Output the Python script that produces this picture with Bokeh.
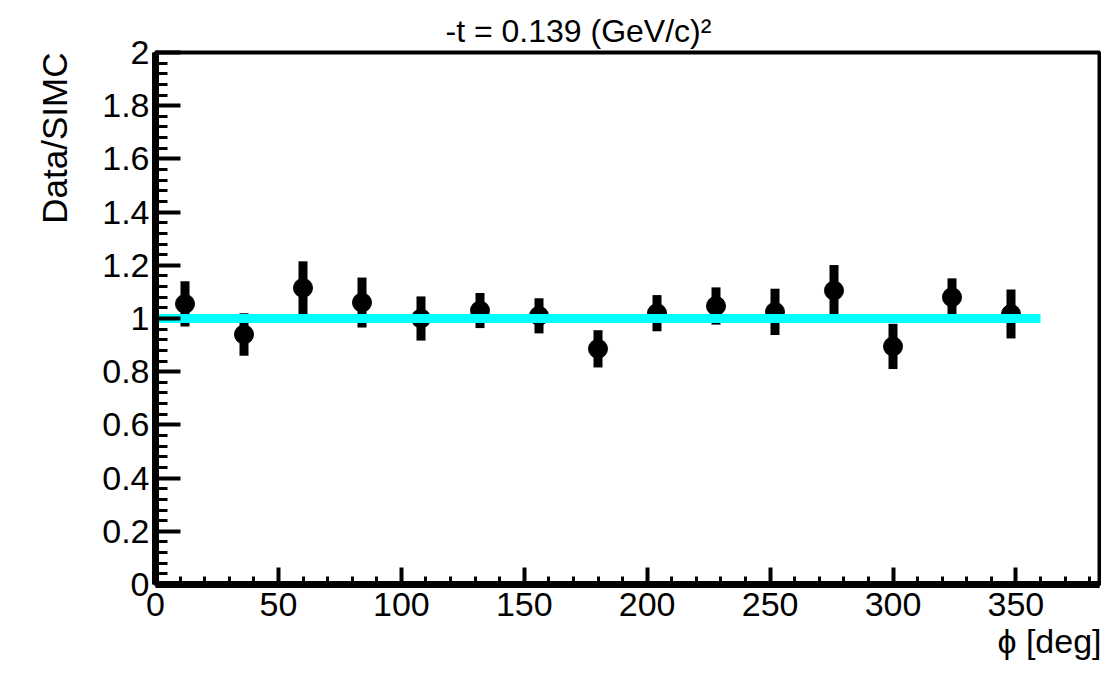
from bokeh.plotting import figure
from bokeh.models import (Range1d, FixedTicker, CustomJSTickFormatter, Title,
                          ColumnDataSource)
from bokeh.embed import file_html
from bokeh.resources import INLINE

# ---- data ----
phi_deg = [12, 36, 60, 84, 108, 132, 156, 180, 204, 228, 252, 276, 300, 324, 348]
ratio = [1.055, 0.94, 1.115, 1.06, 1.0, 1.03, 1.01, 0.886, 1.02, 1.047,
         1.025, 1.105, 0.895, 1.08, 1.017]
ratio_err = [0.085, 0.08, 0.10, 0.094, 0.083, 0.066, 0.066, 0.07, 0.068, 0.07,
             0.087, 0.096, 0.085, 0.071, 0.092]
fit_x = [0, 360]
fit_y = [1.0, 1.0]

x_major = [0, 50, 100, 150, 200, 250, 300, 350]
x_minor = list(range(0, 390, 10))
y_major = [0, 0.2, 0.4, 0.6, 0.8, 1.0, 1.2, 1.4, 1.6, 1.8, 2.0]
y_minor = [round(i * 0.04, 2) for i in range(51)]

title_text = "-t = 0.139 (GeV/c)\u00b2"
x_title = "\u03d5 [deg]"
y_title = "Data/SIMC"

FONT = "Liberation Sans"

p = figure(width=1101, height=683, output_backend="svg", toolbar_location=None,
           x_range=Range1d(0, 384), y_range=Range1d(0, 2),
           min_border_left=155, min_border_right=2, min_border_top=52,
           min_border_bottom=99, title=None)
p.background_fill_color = "white"
p.border_fill_color = "white"
p.outline_line_color = "black"
p.outline_line_width = 4
p.grid.visible = False

# axes styling
for ax in (p.xaxis[0], p.yaxis[0]):
    ax.axis_line_width = 7
    ax.axis_line_color = "black"
    ax.major_tick_out = 0
    ax.minor_tick_out = 0
    ax.major_tick_line_width = 4
    ax.minor_tick_line_width = 3
    ax.major_tick_line_color = "black"
    ax.minor_tick_line_color = "black"
    ax.major_label_text_font = FONT
    ax.major_label_text_font_size = "34px"
    ax.major_label_text_color = "black"

p.xaxis.ticker = FixedTicker(ticks=x_major, minor_ticks=x_minor)
p.yaxis.ticker = FixedTicker(ticks=y_major, minor_ticks=y_minor)
p.xaxis.major_tick_in = 17
p.xaxis.minor_tick_in = 8
p.yaxis.major_tick_in = 25
p.yaxis.minor_tick_in = 12
p.xaxis.major_label_standoff = 8
p.yaxis.major_label_standoff = 6
p.xaxis.formatter = CustomJSTickFormatter(code="return String(+tick.toFixed(2));")
p.yaxis.formatter = CustomJSTickFormatter(code="return String(+tick.toFixed(2));")

# data
lo = [r - e for r, e in zip(ratio, ratio_err)]
hi = [r + e for r, e in zip(ratio, ratio_err)]
src = ColumnDataSource(dict(x=phi_deg, y=ratio, lo=lo, hi=hi))
p.segment(x0="x", y0="lo", x1="x", y1="hi", source=src,
          line_color="black", line_width=9, line_cap="butt")
p.scatter(x="x", y="y", source=src, size=19, marker="circle",
          fill_color="black", line_color="black")
p.line(fit_x, fit_y, line_color="#00FFFF", line_width=9)

# texts
p.add_layout(Title(text=title_text, align="left", offset=290,
                   text_font=FONT, text_font_size="32px",
                   text_font_style="normal", text_color="black",
                   standoff=8), "above")
p.add_layout(Title(text=x_title, align="right", offset=-2,
                   text_font=FONT, text_font_size="34px",
                   text_font_style="normal", text_color="black",
                   standoff=2), "below")
p.add_layout(Title(text=y_title, align="right", offset=0,
                   text_font=FONT, text_font_size="35px",
                   text_font_style="normal", text_color="black",
                   standoff=52), "left")

open("out.html", "w").write(file_html(p, INLINE))
